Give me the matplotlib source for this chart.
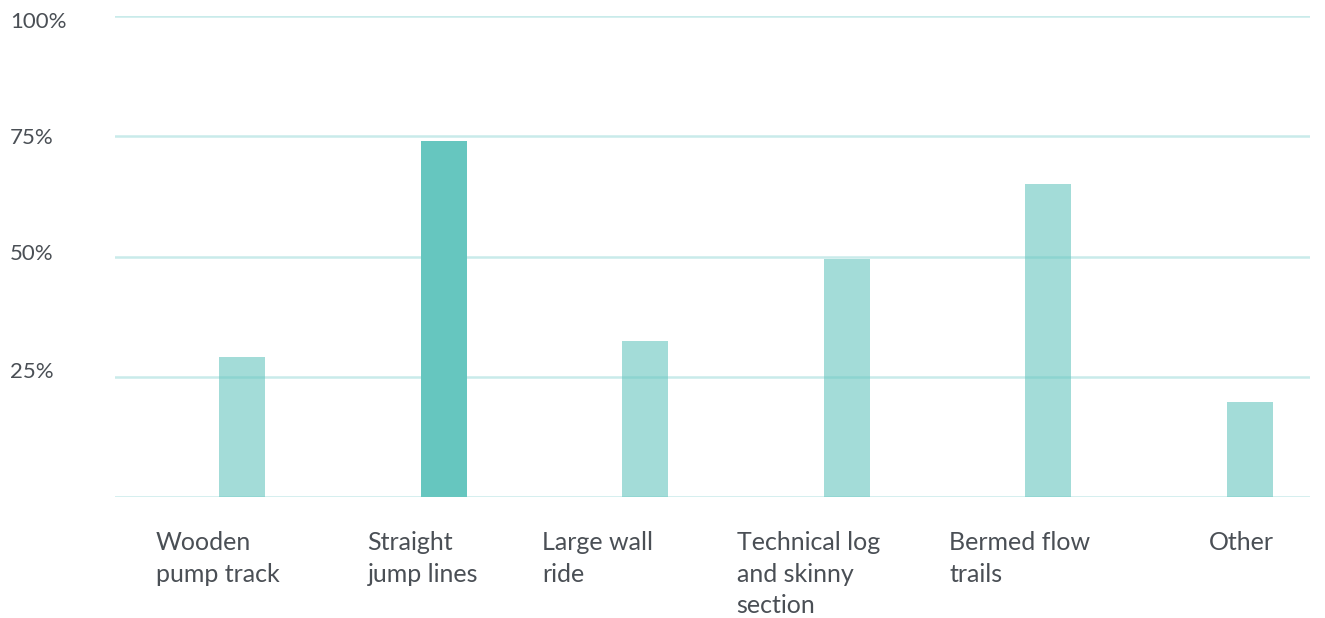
import matplotlib

matplotlib.use("Agg")
import matplotlib.pyplot as plt
import matplotlib.transforms as mtransforms

# values (percent of respondents)
categories = [
    "Wooden\npump track",
    "Straight\njump lines",
    "Large wall\nride",
    "Technical log\nand skinny\nsection",
    "Bermed flow\ntrails",
    "Other",
]
values = [29.1, 74.0, 32.4, 49.5, 65.1, 19.8]
highlight = [False, True, False, False, False, False]
y_ticks = [0, 25, 50, 75, 100]
y_tick_labels = ["", "25%", "50%", "75%", "100%"]

# layout / style
BAR_COLOR = "#66c6bf"
GRID_COLOR = "#c9ebea"
TEXT_COLOR = "#4a4f55"
LABEL_SHIFT = [-0.427, -0.377, -0.511, -0.546, -0.491, -0.203]
TICK_NUDGE_PX = [0, 5, 2, -2, -6]  # the labels sit slightly off their lines

plt.rcParams["font.family"] = ["Lato", "DejaVu Sans"]

fig = plt.figure(figsize=(13.25, 6.18), dpi=100)
ax = fig.add_axes([115 / 1325, 121 / 618, 1195 / 1325, 481 / 618])

x = list(range(len(categories)))
for xi, v, hl in zip(x, values, highlight):
    ax.bar(xi, v, width=0.228, color=BAR_COLOR, alpha=1.0 if hl else 0.6,
           zorder=3, linewidth=0)

for t in y_ticks:
    ax.axhline(t, color=GRID_COLOR, lw=1.8, zorder=2)

ax.set_xlim(-0.630, 5.298)
ax.set_ylim(0, 100)
ax.set_xticks([])
ax.set_yticks([])
for s in ax.spines.values():
    s.set_visible(False)

# y labels at the far left of the figure
to_fig = ax.transData + fig.transFigure.inverted()
for t, lab, nudge in zip(y_ticks, y_tick_labels, TICK_NUDGE_PX):
    if not lab:
        continue
    yfig = to_fig.transform((0, t))[1] + nudge / 618
    fig.text(10 / 1325, yfig, lab, ha="left", va="center", fontsize=16,
             color=TEXT_COLOR)

# category labels, left aligned under each bar
trans = mtransforms.blended_transform_factory(ax.transData, fig.transFigure)
for xi, lab, dx in zip(x, categories, LABEL_SHIFT):
    ax.text(xi + dx, (618 - 531) / 618, lab, transform=trans, ha="left",
            va="top", fontsize=18, color=TEXT_COLOR, linespacing=1.45,
            clip_on=False)

fig.savefig("out.png", dpi=100, facecolor="white")
